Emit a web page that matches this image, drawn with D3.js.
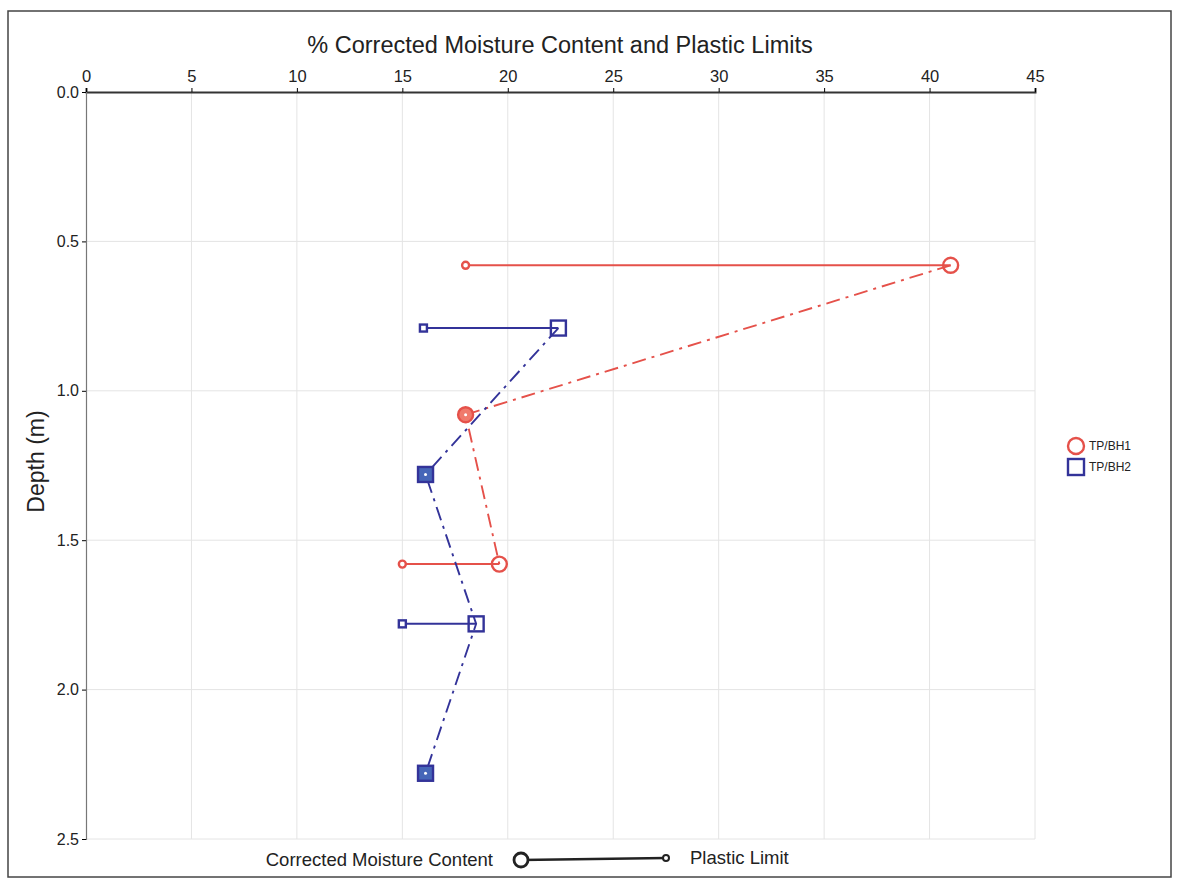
<!DOCTYPE html>
<html>
<head>
<meta charset="utf-8">
<script src="https://cdn.jsdelivr.net/npm/d3@7"></script>
<style>
  body { margin: 0; background: white; }
  text { font-family: "Liberation Sans", Arial, sans-serif; fill: #222; }
</style>
</head>
<body>
<svg id="plot"></svg>
<script>
// Data
const holes = ['TP/BH1', 'TP/BH2'];
const bh1Depth = [0.58, 1.08, 1.58];
const bh1Mc = [41.0, 18.0, 19.6];
const bh1Pl = [18.0, null, 15.0];
const bh2Depth = [0.79, 1.28, 1.78, 2.28];
const bh2Mc = [22.4, 16.1, 18.5, 16.1];
const bh2Pl = [16.0, null, 15.0, null];
const xTicks = [0, 5, 10, 15, 20, 25, 30, 35, 40, 45];
const yTicks = [0.0, 0.5, 1.0, 1.5, 2.0, 2.5];

let width = 1179, height = 883;
let margin = { top: 92, bottom: 44, left: 86, right: 144 };

let svg = d3.select('#plot')
  .attr('width', width)
  .attr('height', height)
  .style('background', 'white');

// outer frame
svg.append('rect')
  .attr('x', 8).attr('y', 11)
  .attr('width', 1163).attr('height', 866)
  .attr('fill', 'none')
  .attr('stroke', '#444')
  .attr('stroke-width', 1.5);

let xScale = d3.scaleLinear()
  .domain([0, 45])
  .range([margin.left, width - margin.right]);

let yScale = d3.scaleLinear()
  .domain([0, 2.5])
  .range([margin.top, height - margin.bottom]);

// grid
svg.append('g')
  .selectAll('line')
  .data(xTicks.slice(1))
  .enter()
  .append('line')
  .attr('x1', d => xScale(d)).attr('x2', d => xScale(d))
  .attr('y1', yScale(0)).attr('y2', yScale(2.5))
  .attr('stroke', '#e4e4e4');

svg.append('g')
  .selectAll('line')
  .data(yTicks.slice(1))
  .enter()
  .append('line')
  .attr('x1', xScale(0)).attr('x2', xScale(45))
  .attr('y1', d => yScale(d)).attr('y2', d => yScale(d))
  .attr('stroke', '#e4e4e4');

// axes
let xAxis = svg.append('g')
  .attr('transform', `translate(0, ${margin.top})`)
  .call(d3.axisTop(xScale).tickValues(xTicks).tickSize(4).tickFormat(d3.format('d')));
xAxis.select('.domain').attr('stroke', '#333').attr('stroke-width', 2);
xAxis.selectAll('text').style('font-size', '16.5px').attr('dy', '-0.2em');

let yAxis = svg.append('g')
  .attr('transform', `translate(${margin.left}, 0)`)
  .call(d3.axisLeft(yScale).tickValues(yTicks).tickSize(4).tickFormat(d3.format('.1f')));
yAxis.select('.domain').attr('stroke', '#777').attr('stroke-width', 1.2);
yAxis.selectAll('text').style('font-size', '16px').attr('fill', '#444');

// titles
svg.append('text')
  .attr('x', 560).attr('y', 53)
  .attr('text-anchor', 'middle')
  .style('font-size', '23.5px')
  .text('% Corrected Moisture Content and Plastic Limits');

svg.append('text')
  .attr('transform', `translate(44, ${yScale(1.25) - 4}) rotate(-90)`)
  .attr('text-anchor', 'middle')
  .style('font-size', '23px')
  .text('Depth (m)');

// series
const series = [
  { name: holes[0], depth: bh1Depth, mc: bh1Mc, pl: bh1Pl, color: '#e5514a', fill: '#f07a6c', shape: 'circle' },
  { name: holes[1], depth: bh2Depth, mc: bh2Mc, pl: bh2Pl, color: '#333399', fill: '#4666b8', shape: 'square' }
];

function marker(g, shape, x, y, size, stroke, fill) {
  if (shape === 'circle') {
    g.append('circle')
      .attr('cx', x).attr('cy', y).attr('r', size / 2)
      .attr('fill', fill).attr('stroke', stroke).attr('stroke-width', 2.4);
  } else {
    g.append('rect')
      .attr('x', x - size / 2).attr('y', y - size / 2)
      .attr('width', size).attr('height', size)
      .attr('fill', fill).attr('stroke', stroke).attr('stroke-width', 2.4);
  }
}

series.forEach(function(s) {
  let g = svg.append('g');
  let pts = s.depth.map((d, i) => ({ depth: d, mc: s.mc[i], pl: s.pl[i] }));

  // dash-dot profile of moisture content
  let line = d3.line().x(d => xScale(d.mc)).y(d => yScale(d.depth));
  g.append('path')
    .datum(pts)
    .attr('d', line)
    .attr('fill', 'none')
    .attr('stroke', s.color)
    .attr('stroke-width', 1.9)
    .attr('stroke-dasharray', '14,6,3,6');

  pts.forEach(function(p) {
    let x = xScale(p.mc), y = yScale(p.depth);
    if (p.pl !== null) {
      g.append('line')
        .attr('x1', xScale(p.pl)).attr('x2', x)
        .attr('y1', y).attr('y2', y)
        .attr('stroke', s.color).attr('stroke-width', 2);
      marker(g, s.shape, xScale(p.pl), y, 7, s.color, 'white');
      marker(g, s.shape, x, y, 15, s.color, 'none');
    } else {
      marker(g, s.shape, x, y, 15, s.color, s.fill);
      g.append('circle')
        .attr('cx', x).attr('cy', y).attr('r', 1.5)
        .attr('fill', 'white');
    }
  });
});

// right legend
let legend = svg.append('g');
series.forEach(function(s, i) {
  let y = 446 + i * 21;
  marker(legend, s.shape, 1076, y, 16, s.color, 'white');
  legend.append('text')
    .attr('x', 1089).attr('y', y + 4)
    .style('font-size', '12px')
    .text(s.name);
});

// bottom key
let key = svg.append('g');
key.append('text')
  .attr('x', 493).attr('y', 866)
  .attr('text-anchor', 'end')
  .style('font-size', '18.5px')
  .text('Corrected Moisture Content');
key.append('line')
  .attr('x1', 521).attr('x2', 666)
  .attr('y1', 860).attr('y2', 858)
  .attr('stroke', '#222').attr('stroke-width', 2.5);
key.append('circle')
  .attr('cx', 521).attr('cy', 860).attr('r', 7)
  .attr('fill', 'white').attr('stroke', '#222').attr('stroke-width', 2.8);
key.append('circle')
  .attr('cx', 666).attr('cy', 858).attr('r', 3)
  .attr('fill', 'white').attr('stroke', '#222').attr('stroke-width', 2);
key.append('text')
  .attr('x', 690).attr('y', 864)
  .style('font-size', '18.5px')
  .text('Plastic Limit');
</script>
</body>
</html>
